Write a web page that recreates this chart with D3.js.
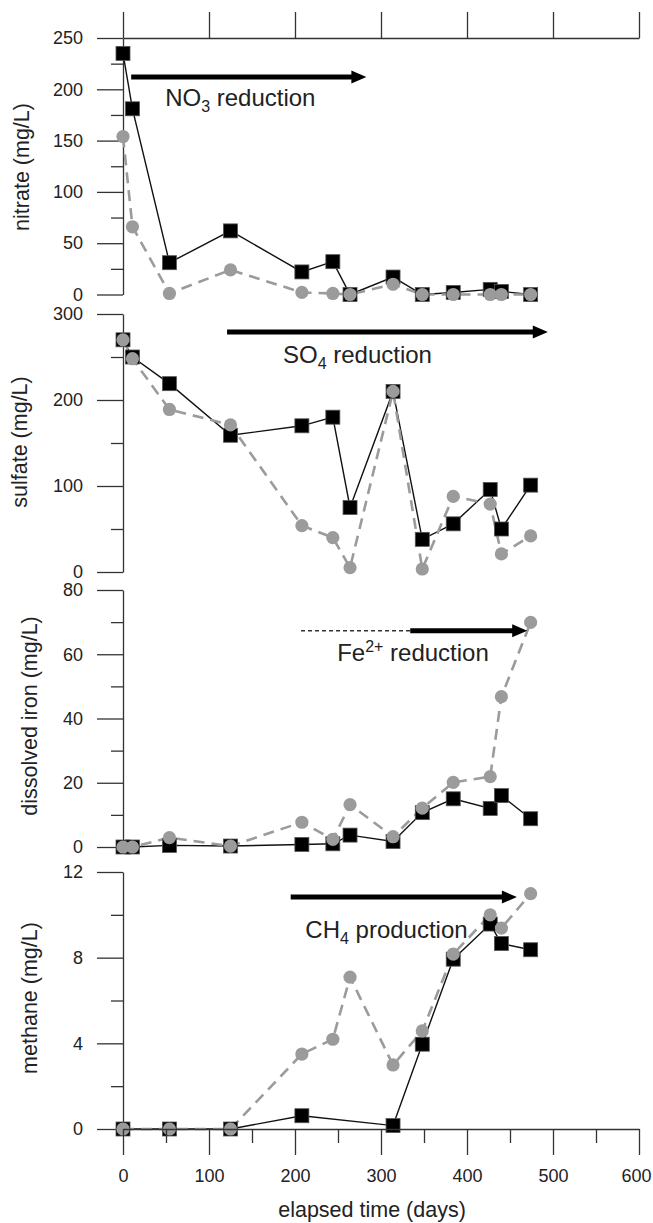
<!DOCTYPE html>
<html>
<head>
<meta charset="utf-8">
<script src="https://cdn.jsdelivr.net/npm/d3@7"></script>
<style>
  body { margin: 0; background: #fff; }
  svg text { font-family: "Liberation Sans", Arial, sans-serif; fill: #222; }
</style>
</head>
<body>
<div id="chart"></div>
<script>
;(function () {

    // sampling times (days)
    var days = [0, 11, 54, 125, 208, 244, 264, 314, 348, 384, 427, 440, 474];

    // black squares (solid line) and grey circles (dashed line); null = not sampled
    var nitrateSquares = [235, 181, 31, 62, 22, 32, 0, 17, 0, 2, 5, 3, 0];
    var nitrateCircles = [154, 66, 1, 24, 2, 1, 0, 10, 0, 0, 0, 0, 0];
    var sulfateSquares = [270, 250, 219, 159, 170, 180, 75, 210, 38, 56, 96, 50, 101];
    var sulfateCircles = [270, 248, 189, 171, 54, 40, 5, 210, 3.5, 88, 79, 21, 42];
    var ironSquares = [0, 0, 0.5, 0.3, 0.8, 1, 3.7, 1.7, 10.7, 15, 12, 16, 8.8];
    var ironCircles = [0, 0, 2.9, 0.3, 7.7, 2.4, 13.2, 3.2, 12.1, 20.1, 21.9, 46.8, 69.9];
    var methaneSquares = [0, null, 0, 0, 0.62, null, null, 0.16, 3.96, 7.93, 9.57, 8.66, 8.37];
    var methaneCircles = [0, null, 0, 0, 3.5, 4.19, 7.09, 2.99, 4.58, 8.17, 10.0, 9.38, 10.99];

    // tick labels
    var xTicks = [0, 100, 200, 300, 400, 500, 600];
    var nitrateTicks = [0, 50, 100, 150, 200, 250];
    var sulfateTicks = [0, 100, 200, 300];
    var ironTicks = [0, 20, 40, 60, 80];
    var methaneTicks = [0, 4, 8, 12];

    // layout of the four stacked panels
    var panels = [
        { title: 'nitrate (mg/L)', ticks: nitrateTicks, squares: nitrateSquares, circles: nitrateCircles,
          top: 38, bottom: 294.5, titleX: 29, titleY: 167 },
        { title: 'sulfate (mg/L)', ticks: sulfateTicks, squares: sulfateSquares, circles: sulfateCircles,
          top: 314, bottom: 572, titleX: 27, titleY: 442 },
        { title: 'dissolved iron (mg/L)', ticks: ironTicks, squares: ironSquares, circles: ironCircles,
          top: 590, bottom: 847, titleX: 37, titleY: 716 },
        { title: 'methane (mg/L)', ticks: methaneTicks, squares: methaneSquares, circles: methaneCircles,
          top: 872, bottom: 1129, titleX: 37, titleY: 998 }
    ];

    // arrows + labels, in data units of their panel
    var notes = [
        { panel: 0, from: 9.5, dashTo: null, to: 283, at: 212,
          text: [['NO', 0], ['3', 1], [' reduction', 0]], tx: 49, ty: 183.7 },
        { panel: 1, from: 121, dashTo: null, to: 494, at: 279,
          text: [['SO', 0], ['4', 1], [' reduction', 0]], tx: 186, ty: 243 },
        { panel: 2, from: 207, dashTo: 334, to: 470, at: 67.3,
          text: [['Fe', 0], ['2+', -1], [' reduction', 0]], tx: 249, ty: 57.9 },
        { panel: 3, from: 195, dashTo: null, to: 458, at: 10.83,
          text: [['CH', 0], ['4', 1], [' production', 0]], tx: 212, ty: 8.9 }
    ];

    var width = 653, height = 1223;
    var axisColor = '#333', grey = '#9b9b9b';

    var svg = d3.select('#chart').append('svg')
        .attr('width', width)
        .attr('height', height);

    var x = d3.scaleLinear().domain([0, 600]).range([123, 639]);

    function styleAxis(g) {
        g.selectAll('path, line').attr('stroke', axisColor).attr('stroke-width', 1.3);
        g.selectAll('text').attr('font-size', 18).attr('fill', '#222')
            .style('font-family', '"Liberation Sans", Arial, sans-serif');
    }

    function pairs(vals) {
        return days.map(function (d, i) { return [d, vals[i]]; })
            .filter(function (p) { return p[1] !== null; });
    }

    panels.forEach(function (p) {
        var step = p.ticks[1] - p.ticks[0];
        var top = p.ticks[p.ticks.length - 1];
        var y = d3.scaleLinear().domain([0, top]).range([p.bottom, p.top]);
        p.y = y;

        // major + half-step minor ticks
        var minor = p.ticks.slice(0, -1).map(function (t) { return t + step / 2; });
        var yAxis = d3.axisLeft(y)
            .tickValues(p.ticks.concat(minor))
            .tickSize(26).tickSizeOuter(0).tickPadding(14)
            .tickFormat(function (d) { return p.ticks.indexOf(d) >= 0 ? d : ''; });
        var ga = svg.append('g').attr('transform', 'translate(' + x(0) + ',0)').call(yAxis);
        ga.selectAll('.tick').filter(function (d) { return p.ticks.indexOf(d) < 0; })
            .select('line').attr('x2', -12);
        styleAxis(ga);

        svg.append('text')
            .attr('transform', 'translate(' + p.titleX + ',' + p.titleY + ') rotate(-90)')
            .attr('text-anchor', 'middle')
            .attr('font-size', 21.5)
            .text(p.title);

        var line = d3.line()
            .x(function (d) { return x(d[0]); })
            .y(function (d) { return y(d[1]); });

        var sq = pairs(p.squares), ci = pairs(p.circles);

        svg.append('path').datum(sq)
            .attr('d', line).attr('fill', 'none')
            .attr('stroke', '#111').attr('stroke-width', 1.4);

        svg.append('path').datum(ci)
            .attr('d', line).attr('fill', 'none')
            .attr('stroke', grey).attr('stroke-width', 2.6)
            .attr('stroke-dasharray', '11,7');

        svg.append('g').selectAll('rect').data(sq).enter().append('rect')
            .attr('x', function (d) { return x(d[0]) - 7; })
            .attr('y', function (d) { return y(d[1]) - 7; })
            .attr('width', 14).attr('height', 14)
            .attr('fill', '#000').attr('stroke', '#555').attr('stroke-width', 0.8);

        svg.append('g').selectAll('circle').data(ci).enter().append('circle')
            .attr('cx', function (d) { return x(d[0]); })
            .attr('cy', function (d) { return y(d[1]); })
            .attr('r', 6.6)
            .attr('fill', grey);
    });

    // top axis of the first panel (ticks only)
    var gTop = svg.append('g').attr('transform', 'translate(0,' + panels[0].top + ')')
        .call(d3.axisTop(x).tickValues(xTicks).tickSize(26).tickSizeOuter(0).tickFormat(''));
    styleAxis(gTop);

    // bottom axis with minor ticks every 50 days
    var xMinor = xTicks.slice(0, -1).map(function (t) { return t + 50; });
    var gBottom = svg.append('g').attr('transform', 'translate(0,' + panels[3].bottom + ')')
        .call(d3.axisBottom(x).tickValues(xTicks.concat(xMinor))
            .tickSize(26).tickSizeOuter(0).tickPadding(14)
            .tickFormat(function (d) { return xTicks.indexOf(d) >= 0 ? d : ''; }));
    gBottom.selectAll('.tick').filter(function (d) { return xTicks.indexOf(d) < 0; })
        .select('line').attr('y2', 14);
    styleAxis(gBottom);
    // last label sits a little left so it stays inside the page
    gBottom.selectAll('.tick').filter(function (d) { return d === 600; })
        .select('text').attr('x', -3);

    svg.append('text')
        .attr('x', 372).attr('y', 1217)
        .attr('text-anchor', 'middle')
        .attr('font-size', 21.5)
        .text('elapsed time (days)');

    // process arrows
    notes.forEach(function (n) {
        var y = panels[n.panel].y;
        var yy = y(n.at), tip = x(n.to);
        var start = x(n.from);
        if (n.dashTo !== null) {
            svg.append('line')
                .attr('x1', start).attr('x2', x(n.dashTo))
                .attr('y1', yy).attr('y2', yy)
                .attr('stroke', '#333').attr('stroke-width', 1.5)
                .attr('stroke-dasharray', '4,3');
            start = x(n.dashTo);
        }
        svg.append('line')
            .attr('x1', start).attr('x2', tip - 12)
            .attr('y1', yy).attr('y2', yy)
            .attr('stroke', '#000').attr('stroke-width', 5);
        svg.append('polygon')
            .attr('points', [[tip, yy], [tip - 15, yy - 6.5], [tip - 15, yy + 6.5]].join(' '))
            .attr('fill', '#000');

        var t = svg.append('text')
            .attr('x', x(n.tx)).attr('y', y(n.ty))
            .attr('font-size', 24);
        n.text.forEach(function (part, i) {
            var shift = part[1];
            var prev = i > 0 ? n.text[i - 1][1] : 0;
            var dy = 0;
            if (shift === 1) dy = 6;
            if (shift === -1) dy = -9;
            if (prev === 1) dy = -6;
            if (prev === -1) dy = 9;
            t.append('tspan')
                .attr('dy', dy)
                .attr('font-size', shift === 0 ? 24 : 16)
                .text(part[0]);
        });
    });

})();
</script>
</body>
</html>
